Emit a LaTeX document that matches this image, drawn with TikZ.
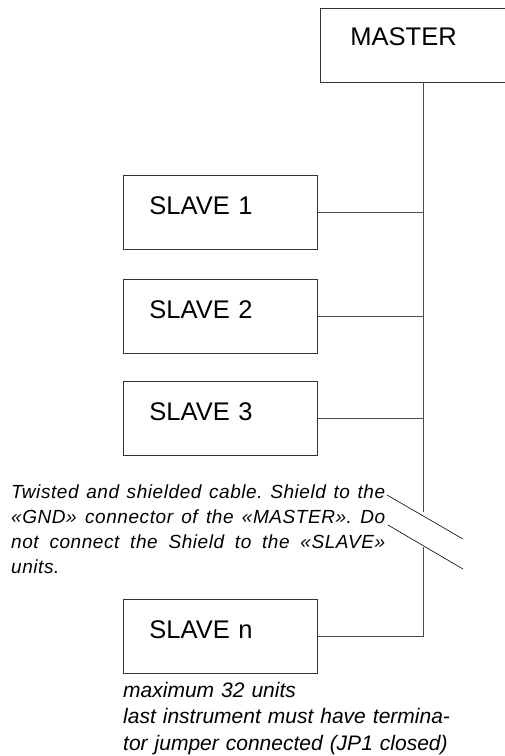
\documentclass[tikz,border=0pt]{standalone}
\usepackage{fontspec}
\setmainfont{Liberation Sans}
\usepackage{tikz}
\usepackage{xcolor}
\hyphenpenalty=10000
\frenchspacing

\begin{document}
\begin{tikzpicture}[x=1pt,y=-1pt]
	\tikzstyle{unit} = [draw=black!80, line width=0.9pt, anchor=north west, minimum width=194pt, minimum height=74pt, inner xsep=26pt, inner ysep=0pt, text width=142pt, align=left, text height=19pt, text depth=15pt, font=\fontsize{25.5}{30}\selectfont]
	\tikzstyle{wire} = [draw=black!70, line width=0.9pt]
	\tikzstyle{cut} = [draw=black, line width=0.6pt]
	\tikzstyle{note} = [anchor=base west, inner sep=0pt, align=left, font=\itshape]
	\useasboundingbox (0,0) rectangle (505,756);
		\node[unit, minimum width=186pt, inner xsep=30pt, text width=126pt, text depth=19pt] (master) at (320,8) {MASTER};
		\node[unit] (s1) at (123,175) {SLAVE 1};
		\node[unit] (s2) at (123,279) {SLAVE 2};
		\node[unit] (s3) at (123,381) {SLAVE 3};
		\node[unit] (sn) at (123,599) {SLAVE n};

		\coordinate (bustop) at (423,82);
		\coordinate (cut1) at (423,512);
		\coordinate (cut2) at (423,547);
		\coordinate (w1a) at (387,495);
		\coordinate (w1b) at (463,539);
		\coordinate (w2a) at (388,525);
		\coordinate (w2b) at (463,569);

		\draw[wire] (bustop) -- (cut1);
		\draw[wire] (cut2) -- (cut2 |- sn.east) -- (sn.east);
		\draw[wire] (s1.east) -- (s1.east -| bustop);
		\draw[wire] (s2.east) -- (s2.east -| bustop);
		\draw[wire] (s3.east) -- (s3.east -| bustop);
		\draw[cut] (w1a) -- (w1b);
		\draw[cut] (w2a) -- (w2b);

		\node[note, text width=374pt, align=justify, font=\itshape\fontsize{19}{25}\selectfont\addfontfeatures{LetterSpace=3}] (cable) at (11,498)
			{Twisted and shielded cable. Shield to the\linebreak «GND» connector of the «MASTER». Do\linebreak not connect the Shield to the «SLAVE»\linebreak units.};
		\node[note, text width=360pt, font=\itshape\fontsize{21}{26.5}\selectfont] (max) at (123,697)
			{maximum 32 units\\ last instrument must have termina-\\ tor jumper connected (JP1 closed)};
	\end{tikzpicture}
\end{document}
